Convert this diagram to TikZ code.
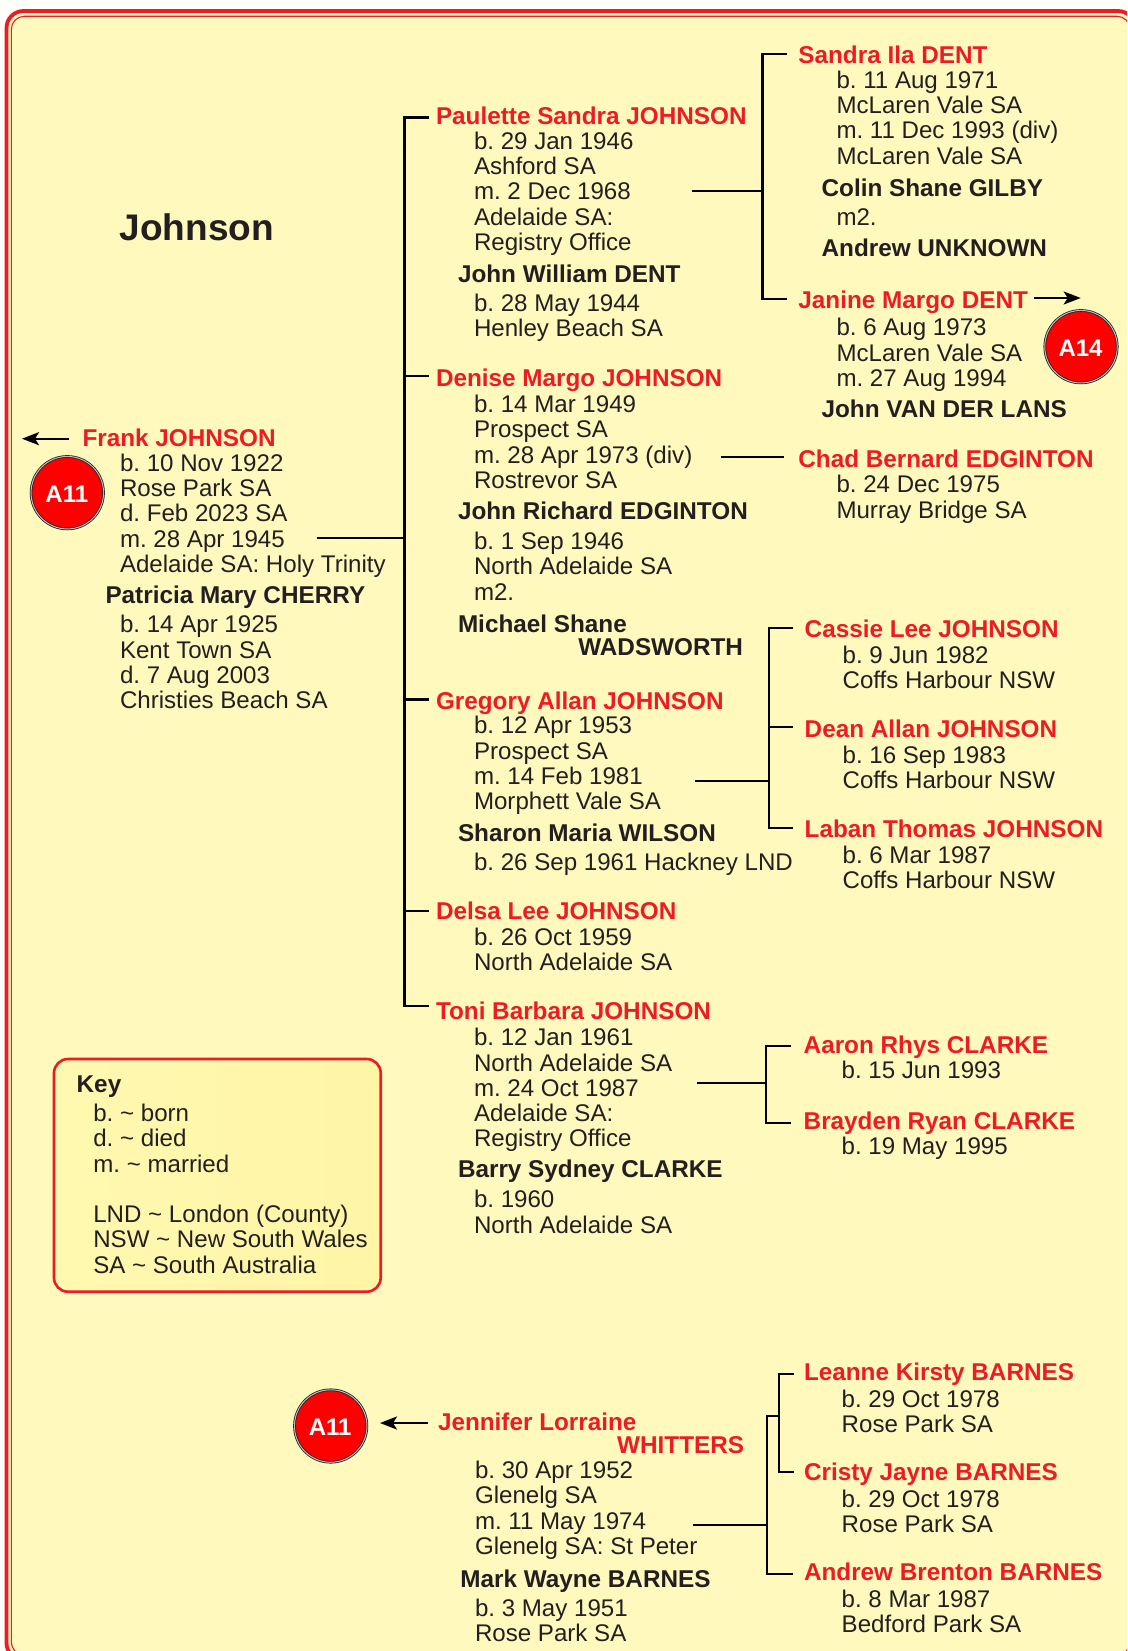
\documentclass[tikz,border=0pt]{standalone}
\usepackage{fontspec}
\setmainfont{Liberation Sans}
\usetikzlibrary{arrows.meta,calc}
\frenchspacing
\definecolor{page}{HTML}{FFFEF8}
\definecolor{panel}{HTML}{FFF9BE}
\definecolor{keyL}{HTML}{FFF8B0}
\definecolor{keyR}{HTML}{FFF5A6}
\definecolor{bred}{HTML}{ED1C24}
\definecolor{ink}{HTML}{231F20}
\newcommand\badgetext[1]{\raisebox{-9.8pt}[0pt][0pt]{\kern-1pt #1}}
\tikzset{
  x=1pt,y=-1pt,
  person/.style={anchor=base west,inner sep=0pt,outer sep=0pt,yshift=-0.7pt,font=\fontsize{24.3}{25.3}\selectfont\bfseries,text=bred},
  spouse/.style={person,text=ink},
  info/.style={anchor=base west,inner sep=0pt,outer sep=0pt,yshift=-0.7pt,align=left,font=\fontsize{24.1}{25.3}\selectfont,text=ink},
  title/.style={anchor=base west,inner sep=0pt,font=\fontsize{37}{40}\selectfont\bfseries,text=ink},
  link/.style={draw=black,line width=2.3pt,line join=miter},
  ptr/.style={draw=black,line width=2.3pt,-{Stealth[length=17pt,width=13pt,inset=4pt]}},
  badge/.style={circle,minimum size=72.5pt,inner sep=0pt,fill=red,draw=ink,line width=.8pt,double=lightgray,double distance=1pt,text=white,font=\fontsize{24}{26}\selectfont\bfseries},
}
\begin{document}
\begin{tikzpicture}
\useasboundingbox (0,0) rectangle (1127,1651);
\clip (0,0) rectangle (1127,1651);
\fill[page] (0,0) rectangle (1127,1651);
\fill[panel,rounded corners=17pt] (6.5,11) rectangle (1135,1660);
\draw[bred,line width=3.8pt,rounded corners=17pt] (6.5,11) rectangle (1135,1660);
\draw[bred,line width=1.1pt,rounded corners=13pt] (11.3,16.3) rectangle (1130,1655);
\shade[left color=keyL,right color=keyR,rounded corners=14pt] (54,1059) rectangle (380.7,1291.7);
\draw[bred,line width=2.6pt,rounded corners=14pt] (54,1059) rectangle (380.7,1291.7);

\node[title] (title) at (119.5,240) {Johnson};

% Frank
\node[person] (frank) at (82.5,445.7) {Frank JOHNSON};
\node[info] (frankd) at (120,571.7) {b. 10 Nov 1922\\Rose Park SA\\d. Feb 2023 SA\\m. 28 Apr 1945\\Adelaide SA: Holy Trinity};
\node[spouse] (patricia) at (105.5,603) {Patricia Mary CHERRY};
\node[info] (patriciad) at (120,708) {b. 14 Apr 1925\\Kent Town SA\\d. 7 Aug 2003\\Christies Beach SA};
\node[badge] (a11a) at (67.3,492.7) {\badgetext{A11}};

% Children
\node[person] (paulette) at (436,123.5) {Paulette Sandra JOHNSON};
\node[info] (pauletted) at (474,249.8) {b. 29 Jan 1946\\Ashford SA\\m. 2 Dec 1968\\Adelaide SA:\\Registry Office};
\node[spouse] (johnw) at (458,282) {John William DENT};
\node[info] (johnwd) at (474,336) {b. 28 May 1944\\Henley Beach SA};

\node[person] (sandra) at (798.4,62.8) {Sandra Ila DENT};
\node[info] (sandrad) at (836.5,163.4) {b. 11 Aug 1971\\McLaren Vale SA\\m. 11 Dec 1993 (div)\\McLaren Vale SA};
\node[spouse] (colin) at (821.6,195.5) {Colin Shane GILBY};
\node[info] (sandram) at (836.5,224.5) {m2.};
\node[spouse] (andrewu) at (821.6,255.5) {Andrew UNKNOWN};
\node[person] (janine) at (798.4,308) {Janine Margo DENT};
\node[info] (janined) at (836.5,385.6) {b. 6 Aug 1973\\McLaren Vale SA\\m. 27 Aug 1994};
\node[spouse] (johnv) at (821.6,417.2) {John VAN DER LANS};
\node[badge] (a14) at (1081,346.7) {\badgetext{A14}};

\node[person] (denise) at (436,386) {Denise Margo JOHNSON};
\node[info] (denised) at (474,487.8) {b. 14 Mar 1949\\Prospect SA\\m. 28 Apr 1973 (div)\\Rostrevor SA};
\node[spouse] (johnr) at (458,518.8) {John Richard EDGINTON};
\node[info] (johnrd) at (474,599.5) {b. 1 Sep 1946\\North Adelaide SA\\m2.};
\node[spouse] (michael) at (458,631.6) {Michael Shane};
\node[spouse] (wads) at (578.3,654.7) {WADSWORTH};
\node[person] (chad) at (798.4,467.2) {Chad Bernard EDGINTON};
\node[info] (chadd) at (836.5,517.3) {b. 24 Dec 1975\\Murray Bridge SA};

\node[person] (gregory) at (436,708.4) {Gregory Allan JOHNSON};
\node[info] (gregoryd) at (474,809) {b. 12 Apr 1953\\Prospect SA\\m. 14 Feb 1981\\Morphett Vale SA};
\node[spouse] (sharon) at (458,841.2) {Sharon Maria WILSON};
\node[info] (sharond) at (474,870.2) {b. 26 Sep 1961 Hackney LND};
\node[person] (cassie) at (804.7,636.8) {Cassie Lee JOHNSON};
\node[info] (cassied) at (842.6,688) {b. 9 Jun 1982\\Coffs Harbour NSW};
\node[person] (dean) at (804.7,737) {Dean Allan JOHNSON};
\node[info] (deand) at (842.6,788) {b. 16 Sep 1983\\Coffs Harbour NSW};
\node[person] (laban) at (804.7,837) {Laban Thomas JOHNSON};
\node[info] (laband) at (842.6,888) {b. 6 Mar 1987\\Coffs Harbour NSW};

\node[person] (delsa) at (436,919) {Delsa Lee JOHNSON};
\node[info] (delsad) at (474,970.2) {b. 26 Oct 1959\\North Adelaide SA};

\node[person] (toni) at (436,1019.2) {Toni Barbara JOHNSON};
\node[info] (tonid) at (474,1146.2) {b. 12 Jan 1961\\North Adelaide SA\\m. 24 Oct 1987\\Adelaide SA:\\Registry Office};
\node[spouse] (barry) at (458,1177.2) {Barry Sydney CLARKE};
\node[info] (barryd) at (474,1232.5) {b. 1960\\North Adelaide SA};
\node[person] (aaron) at (803.7,1053) {Aaron Rhys CLARKE};
\node[info] (aarond) at (841.6,1077.7) {b. 15 Jun 1993};
\node[person] (brayden) at (803.7,1128.7) {Brayden Ryan CLARKE};
\node[info] (braydend) at (841.6,1153.5) {b. 19 May 1995};

% Key
\node[spouse] (key) at (76.7,1091.7) {Key};
\node[info] (keyd) at (93.3,1272.5) {b. \textasciitilde{} born\\d. \textasciitilde{} died\\m. \textasciitilde{} married\\\mbox{}\\LND \textasciitilde{} London (County)\\NSW \textasciitilde{} New South Wales\\SA \textasciitilde{} South Australia};

% Jennifer
\node[badge] (a11b) at (330.7,1426) {\badgetext{A11}};
\node[person] (jennifer) at (438,1430) {Jennifer Lorraine};
\node[person] (whitters) at (617.2,1453) {WHITTERS};
\node[info] (jenniferd) at (475,1553.8) {b. 30 Apr 1952\\Glenelg SA\\m. 11 May 1974\\Glenelg SA: St Peter};
\node[spouse] (mark) at (460.3,1587) {Mark Wayne BARNES};
\node[info] (markd) at (475,1641) {b. 3 May 1951\\Rose Park SA};
\node[person] (leanne) at (804,1380) {Leanne Kirsty BARNES};
\node[info] (leanned) at (841.7,1431.7) {b. 29 Oct 1978\\Rose Park SA};
\node[person] (cristy) at (804,1480) {Cristy Jayne BARNES};
\node[info] (cristyd) at (841.7,1531.7) {b. 29 Oct 1978\\Rose Park SA};
\node[person] (andrewb) at (804,1580) {Andrew Brenton BARNES};
\node[info] (andrewbd) at (841.7,1631.7) {b. 8 Mar 1987\\Bedford Park SA};

% Junction coordinates
\coordinate (t1) at (404.5,117.5);
\coordinate (t2) at (404.5,376);
\coordinate (t3) at (404.5,699.4);
\coordinate (t4) at (404.5,911);
\coordinate (t5) at (404.5,1006);
\coordinate (tf) at (404.5,537.7);
\coordinate (fs) at (316.7,537.7);
\draw[link] (t1 -| paulette.west) ++(-7.3,0) -- (t1) -- (t5) -- ++(24.2,0);
\draw[link,shorten >=7.3pt] (t2) -- (t2 -| denise.west);
\draw[link,shorten >=7.3pt] (t3) -- (t3 -| gregory.west);
\draw[link,shorten >=7.3pt] (t4) -- (t4 -| delsa.west);
\draw[link] (fs) -- (tf);

\coordinate (s1) at (762.6,53.7);
\coordinate (s2) at (762.6,299);
\coordinate (sj) at (762.6,190.7);
\coordinate (ss) at (692,190.7);
\draw[link] (s1 -| sandra.west) ++(-11.6,0) -- (s1) -- (s2) -- ++(24.2,0);
\draw[link] (ss) -- (sj);

\coordinate (cs) at (720.5,457);
\draw[link,shorten >=14.7pt] (cs) -- (cs -| chad.west);

\coordinate (g1) at (769,627.8);
\coordinate (g2) at (769,726.8);
\coordinate (g3) at (769,828);
\coordinate (gj) at (769,781);
\coordinate (gs) at (695,781);
\draw[link] (g1 -| cassie.west) ++(-11.7,0) -- (g1) -- (g3) -- ++(24,0);
\draw[link,shorten >=11.7pt] (g2) -- (g2 -| dean.west);
\draw[link] (gs) -- (gj);

\coordinate (c1) at (765.8,1046);
\coordinate (c2) at (765.8,1122.8);
\coordinate (cj) at (765.8,1082.8);
\coordinate (cc) at (697,1082.8);
\draw[link] (c1 -| aaron.west) ++(-12.7,0) -- (c1) -- (c2) -- ++(25.2,0);
\draw[link] (cc) -- (cj);

\coordinate (b1) at (779,1374.3);
\coordinate (b2) at (779,1472);
\coordinate (bu) at (779,1416);
\coordinate (bv) at (767.3,1416);
\coordinate (bl) at (767.3,1574);
\coordinate (bj) at (767.3,1525);
\coordinate (bs) at (693.3,1525);
\draw[link] (b1 -| leanne.west) ++(-10,0) -- (b1) -- (b2) -- ++(15,0);
\draw[link] (bu) -- (bv) -- (bl) -- ++(25.7,0);
\draw[link] (bs) -- (bj);

% Pointer arrows
\coordinate (fa) at (69,438.7);
\coordinate (fb) at (22,438.7);
\draw[ptr] (fa) -- (fb);
\coordinate (ja) at (1034,298);
\coordinate (jb) at (1080.7,298);
\draw[ptr] (ja) -- (jb);
\coordinate (wa) at (427.6,1423);
\coordinate (wb) at (380,1423);
\draw[ptr] (wa) -- (wb);
\end{tikzpicture}
\end{document}
